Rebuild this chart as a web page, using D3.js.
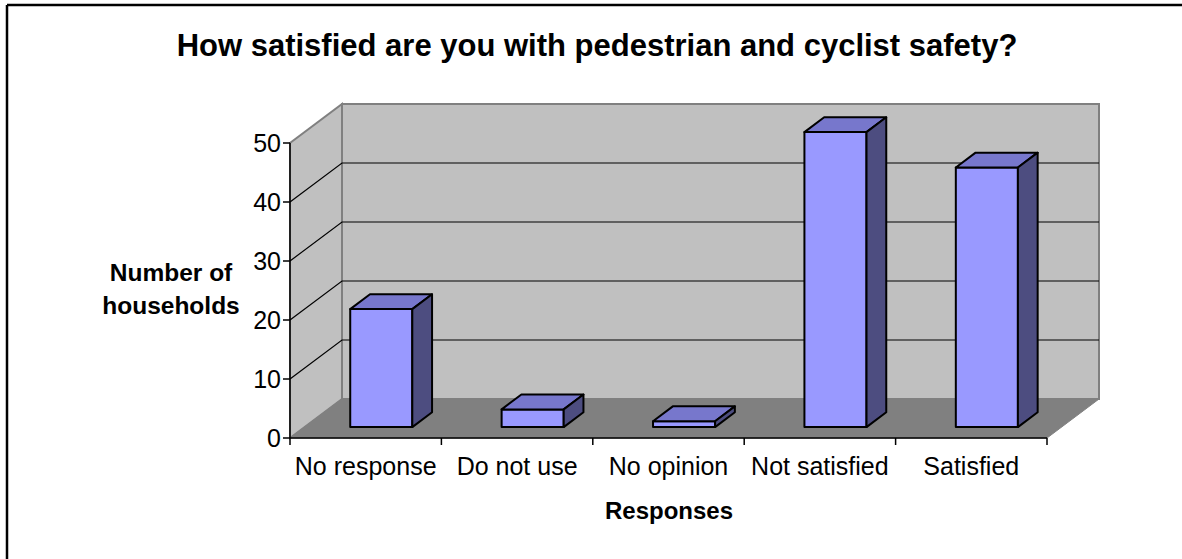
<!DOCTYPE html>
<html>
<head>
<meta charset="utf-8">
<script src="https://cdn.jsdelivr.net/npm/d3@7"></script>
<style>
  html, body { margin: 0; padding: 0; background: #ffffff; }
  svg { display: block; }
  text { font-family: "Liberation Sans", Arial, sans-serif; fill: #000; }
</style>
</head>
<body>
<svg id="chart" width="1182" height="559"></svg>
<script>
const categories = ["No response", "Do not use", "No opinion", "Not satisfied", "Satisfied"];
const values = [20, 3, 1, 50, 44];
const yTicks = [0, 10, 20, 30, 40, 50];
const gridValues = [10, 20, 30, 40];
const titleText = "How satisfied are you with pedestrian and cyclist safety?";
const yTitleLines = ["Number of", "households"];
const xTitleText = "Responses";

const svg = d3.select("#chart");

// frame (top and left border)
svg.append("line").attr("x1", 7).attr("y1", 5).attr("x2", 1182).attr("y2", 5)
  .attr("stroke", "#000").attr("stroke-width", 2.5);
svg.append("line").attr("x1", 7).attr("y1", 5).attr("x2", 7).attr("y2", 559)
  .attr("stroke", "#000").attr("stroke-width", 2.5);

// geometry
const x0 = 290, x1 = 1047;
const DX = 52, DY = -39;  // depth vector
const x = d3.scaleBand().domain(categories).range([x0, x1]).paddingInner(0).paddingOuter(0);
const y = d3.scaleLinear().domain([0, 50]).range([438, 143]);
const P = (px, v, z) => [px + z * DX, y(v) + z * DY];
const poly = pts => "M" + pts.map(p => p.join(",")).join("L") + "Z";

// back wall
svg.append("path")
  .attr("d", poly([P(x0, 0, 1), P(x1, 0, 1), P(x1, 50, 1), P(x0, 50, 1)]))
  .attr("fill", "#c0c0c0").attr("stroke", "#808080").attr("stroke-width", 2);
// left wall
svg.append("path")
  .attr("d", poly([P(x0, 0, 0), P(x0, 0, 1), P(x0, 50, 1), P(x0, 50, 0)]))
  .attr("fill", "#c0c0c0").attr("stroke", "#808080").attr("stroke-width", 2);
// floor
svg.append("path")
  .attr("d", poly([P(x0, 0, 0), P(x1, 0, 0), P(x1, 0, 1), P(x0, 0, 1)]))
  .attr("fill", "#808080").attr("stroke", "#808080").attr("stroke-width", 1);

// gridlines
const grid = svg.append("g");
gridValues.forEach(v => {
  const a = P(x0, v, 0), b = P(x0, v, 1), c = P(x1, v, 1);
  grid.append("path").attr("d", "M" + a + "L" + b + "L" + c)
    .attr("fill", "none").attr("stroke", "#000").attr("stroke-width", 1.2);
});

// y axis
svg.append("line").attr("x1", x0).attr("y1", y(0)).attr("x2", x0).attr("y2", y(50))
  .attr("stroke", "#000").attr("stroke-width", 1.5);
const yAx = svg.append("g");
yTicks.forEach(v => {
  yAx.append("line").attr("x1", x0 - 7).attr("x2", x0).attr("y1", y(v)).attr("y2", y(v))
    .attr("stroke", "#000").attr("stroke-width", 1.5);
  yAx.append("text").attr("x", x0 - 9).attr("y", y(v)).attr("dy", "0.36em")
    .attr("text-anchor", "end").attr("font-size", 25).text(v);
});

// x axis
svg.append("line").attr("x1", x0).attr("y1", y(0)).attr("x2", x1).attr("y2", y(0))
  .attr("stroke", "#000").attr("stroke-width", 1.5);
const tickXs = categories.map(c => x(c)).concat([x1]);
tickXs.forEach(tx => {
  svg.append("line").attr("x1", tx).attr("x2", tx).attr("y1", y(0)).attr("y2", y(0) + 7)
    .attr("stroke", "#000").attr("stroke-width", 1.5);
});
categories.forEach(c => {
  svg.append("text").attr("x", x(c) + x.bandwidth() / 2).attr("y", 475)
    .attr("text-anchor", "middle").attr("font-size", 25).text(c);
});

// bars
const z0 = 0.28, z1 = 0.66;
const bw = x.bandwidth() * 0.41;
const bars = svg.append("g");
categories.forEach((c, i) => {
  const v = values[i];
  const cx = x(c) + x.bandwidth() / 2 + 1;
  const L = cx - bw / 2, R = cx + bw / 2;
  const g = bars.append("g").attr("stroke", "#000").attr("stroke-width", 2).attr("stroke-linejoin", "round");
  g.append("path").attr("d", poly([P(L, 0, z0), P(R, 0, z0), P(R, v, z0), P(L, v, z0)])).attr("fill", "#9999ff");
  g.append("path").attr("d", poly([P(L, v, z0), P(R, v, z0), P(R, v, z1), P(L, v, z1)])).attr("fill", "#7777cc");
  g.append("path").attr("d", poly([P(R, 0, z0), P(R, 0, z1), P(R, v, z1), P(R, v, z0)])).attr("fill", "#4d4d80");
});

// titles
svg.append("text").attr("x", 597).attr("y", 56).attr("text-anchor", "middle")
  .attr("font-size", 31).attr("font-weight", "bold").text(titleText);
yTitleLines.forEach((t, i) => {
  svg.append("text").attr("x", 171).attr("y", 281 + i * 33).attr("text-anchor", "middle")
    .attr("font-size", 24.5).attr("font-weight", "bold").text(t);
});
svg.append("text").attr("x", 669).attr("y", 519).attr("text-anchor", "middle")
  .attr("font-size", 24).attr("font-weight", "bold").text(xTitleText);
</script>
</body>
</html>
